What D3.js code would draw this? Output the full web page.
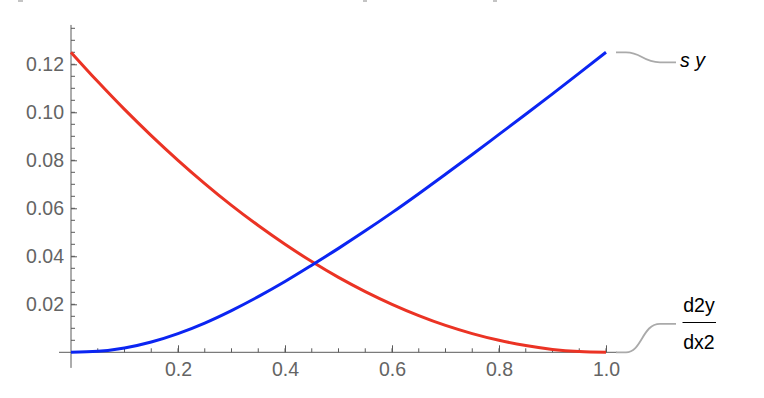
<!DOCTYPE html>
<html>
<head>
<meta charset="utf-8">
<script src="https://cdn.jsdelivr.net/npm/d3@7"></script>
<style>
  html, body { margin: 0; padding: 0; background: #fff; }
  svg { display: block; font-family: "Liberation Sans", Arial, sans-serif; }
  .tick text { fill: #646464; font-size: 19.5px; }
  .axis line, .axis path { stroke: #5a5a5a; }
</style>
</head>
<body>
<svg id="chart" width="764" height="398"></svg>
<script>
const xs    = [0, 0.05, 0.1, 0.15, 0.2, 0.25, 0.3, 0.35, 0.4, 0.45, 0.5,
               0.55, 0.6, 0.65, 0.7, 0.75, 0.8, 0.85, 0.9, 0.95, 1.0];
const sy    = [0, 0.0004, 0.0018, 0.0043, 0.0078, 0.0122, 0.0174, 0.0232, 0.0295, 0.0363, 0.0433,
               0.0506, 0.0582, 0.0661, 0.0742, 0.0824, 0.0908, 0.0992, 0.1077, 0.1163, 0.1250];
const d2y   = [0.1250, 0.1128, 0.1012, 0.0903, 0.0800, 0.0703, 0.0612, 0.0528, 0.0450, 0.0378, 0.0312,
               0.0253, 0.0200, 0.0153, 0.0112, 0.0078, 0.0050, 0.0028, 0.0012, 0.0003, 0.0000];
const xTicks      = [0.2, 0.4, 0.6, 0.8, 1.0];
const yTicks      = [0.02, 0.04, 0.06, 0.08, 0.10, 0.12];
const xMinorTicks = d3.range(0.05, 1.01, 0.05);
const yMinorTicks = d3.range(0.005, 0.136, 0.005);
const xRange      = [-0.0224, 1.0206];
const yRange      = [-0.0065, 0.1364];

const svg = d3.select("#chart");

const x = d3.scaleLinear().domain([0, 1]).range([71, 606]);
const y = d3.scaleLinear().domain([0, 0.125]).range([352.3, 52.3]);

// stray bits cut off at the top edge
svg.selectAll("rect.stray")
   .data([[18, 5], [363, 4], [493, 4]])
   .enter().append("rect")
   .attr("x", d => d[0]).attr("y", 0)
   .attr("width", d => d[1]).attr("height", 2)
   .attr("fill", "#c4c4c4");

// axes lines
const axisG = svg.append("g").attr("class", "axis");
axisG.append("line")
     .attr("x1", x(xRange[0])).attr("x2", x(xRange[1]))
     .attr("y1", y(0)).attr("y2", y(0));
axisG.append("line")
     .attr("x1", x(0)).attr("x2", x(0))
     .attr("y1", y(yRange[0])).attr("y2", y(yRange[1]));

// minor ticks
axisG.append("g").selectAll("line")
     .data(xMinorTicks)
     .enter().append("line")
     .attr("x1", d => x(d)).attr("x2", d => x(d))
     .attr("y1", y(0)).attr("y2", y(0) - 4);
axisG.append("g").selectAll("line")
     .data(yMinorTicks)
     .enter().append("line")
     .attr("y1", d => y(d)).attr("y2", d => y(d))
     .attr("x1", x(0)).attr("x2", x(0) + 4);

// major ticks + labels
const xAxis = svg.append("g")
   .attr("class", "axis")
   .attr("transform", `translate(0,${y(0)})`)
   .call(d3.axisBottom(x).tickValues(xTicks).tickFormat(d3.format(".1f"))
           .tickSizeInner(-7).tickSizeOuter(0).tickPadding(10));
xAxis.select(".domain").remove();
xAxis.selectAll(".tick text").attr("font-family", null).attr("font-size", null);

const yAxis = svg.append("g")
   .attr("class", "axis")
   .attr("transform", `translate(${x(0)},0)`)
   .call(d3.axisLeft(y).tickValues(yTicks).tickFormat(d3.format(".2f"))
           .tickSizeInner(-6).tickSizeOuter(0).tickPadding(7));
yAxis.select(".domain").remove();
yAxis.selectAll(".tick text").attr("font-family", null).attr("font-size", null);

// curves
const line = d3.line()
  .x((d, i) => x(xs[i]))
  .y(d => y(d))
  .curve(d3.curveMonotoneX);

svg.append("path")
   .attr("d", line(d2y))
   .attr("fill", "none")
   .attr("stroke", "#eb3324")
   .attr("stroke-width", 3);

svg.append("path")
   .attr("d", line(sy))
   .attr("fill", "none")
   .attr("stroke", "#0b25f2")
   .attr("stroke-width", 3);

// callout labels
function callout(x0, y0, y1) {
  svg.append("path")
     .attr("d", `M${x0},${y0} L${x0 + 10},${y0} C${x0 + 26},${y0} ${x0 + 26},${y1} ${x0 + 44},${y1} L${x0 + 60},${y1}`)
     .attr("fill", "none")
     .attr("stroke", "#aaaaaa")
     .attr("stroke-width", 1.8);
}

const endX = x(xs[xs.length - 1]) + 10;
callout(endX, y(sy[sy.length - 1]), y(sy[sy.length - 1]) + 10);
callout(endX, y(d2y[d2y.length - 1]), y(d2y[d2y.length - 1]) - 28.5);

svg.append("text")
   .attr("x", 680).attr("y", 66.5)
   .attr("font-size", 19.5)
   .attr("font-style", "italic")
   .attr("fill", "#000")
   .text("s y");

const fracX = 699;
svg.append("text")
   .attr("x", fracX).attr("y", 311.5)
   .attr("text-anchor", "middle")
   .attr("font-size", 19.5)
   .attr("fill", "#000")
   .text("d2y");
svg.append("line")
   .attr("x1", 682.5).attr("x2", 716)
   .attr("y1", 322.5).attr("y2", 322.5)
   .attr("stroke", "#000").attr("stroke-width", 1);
svg.append("text")
   .attr("x", fracX).attr("y", 349)
   .attr("text-anchor", "middle")
   .attr("font-size", 19.5)
   .attr("fill", "#000")
   .text("dx2");
</script>
</body>
</html>
